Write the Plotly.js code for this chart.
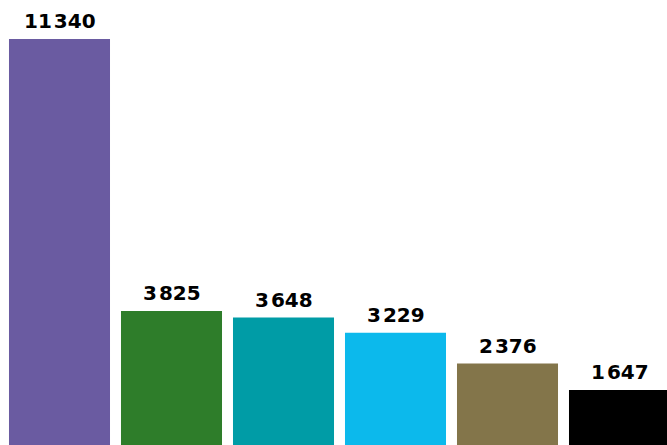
<!DOCTYPE html>
<html>
<head>
<meta charset="utf-8">
<script src="https://cdn.plot.ly/plotly-3.0.1.min.js"></script>
<style>html,body{margin:0;padding:0;background:#fff;}#chart{width:667px;height:445px;}</style>
</head>
<body>
<div id="chart"></div>
<script>
const categories = ["A", "B", "C", "D", "E", "F"];
const values = [11340, 3825, 3648, 3229, 2376, 1647];
const colors = ["#6a5ba1", "#2e7d2a", "#009ca6", "#0cb9ec", "#83754a", "#000000"];

function fmt(v) {
  return String(v).replace(/\B(?=(\d{3})+(?!\d))/g, "\u200A");
}

const trace = {
  type: "bar",
  x: categories.map((c, i) => i),
  y: values,
  marker: {color: colors, line: {width: 0}},
  hoverinfo: "none"
};

const annotations = values.map((v, i) => ({
  x: i, y: v, xref: "x", yref: "y",
  text: fmt(v),
  showarrow: false,
  yanchor: "bottom",
  yshift: 4,
  font: {family: "'DejaVu Sans', sans-serif", size: 20, color: "#000", weight: "bold"}
}));

const layout = {
  width: 667, height: 445,
  margin: {l: 0, r: 0, t: 0, b: 0},
  paper_bgcolor: "#fff", plot_bgcolor: "#fff",
  bargap: 0.098,
  showlegend: false,
  xaxis: {range: [-0.53125, 5.4241], visible: false, fixedrange: true},
  yaxis: {range: [127, 12416], visible: false, fixedrange: true},
  annotations: annotations
};

Plotly.newPlot("chart", [trace], layout, {displayModeBar: false, staticPlot: true});
</script>
</body>
</html>
